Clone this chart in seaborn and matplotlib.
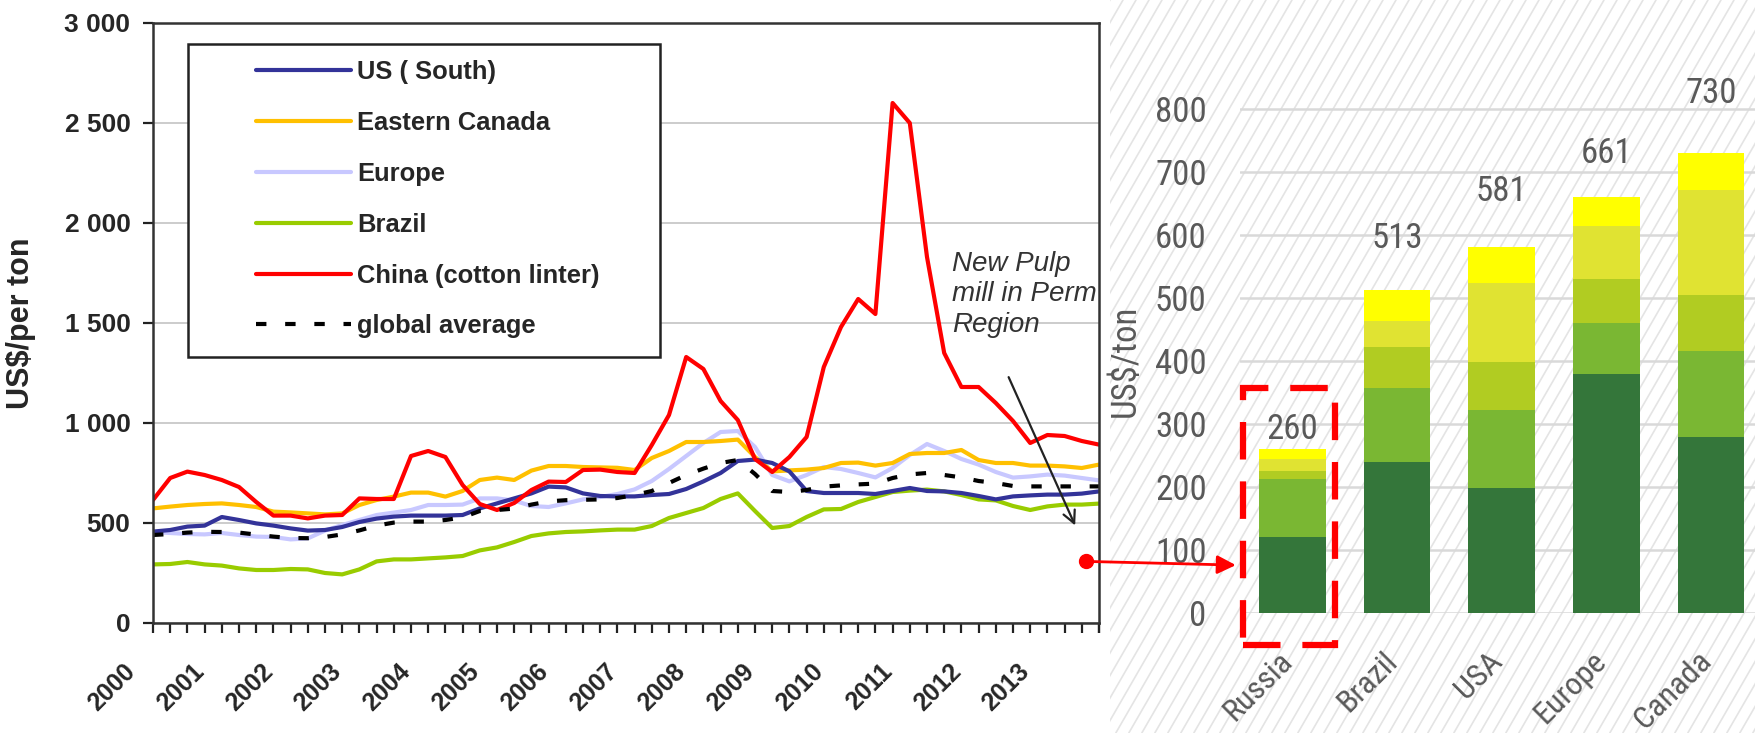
import numpy as np
import matplotlib
matplotlib.use('Agg')
import matplotlib.pyplot as plt
import seaborn as sns
from matplotlib.patches import Rectangle, ConnectionPatch
from matplotlib.lines import Line2D
from matplotlib.transforms import ScaledTranslation

# ---- data: quarterly dissolving pulp prices, US$/ton ----
quarters = np.arange(2000, 2014, 0.25)

us_south = [457, 465, 482, 487, 530, 515, 498, 487, 473, 462, 465, 480,
            505, 522, 532, 537, 537, 537, 540, 573, 598, 623, 648, 682,
            678, 648, 635, 633, 633, 640, 645, 670, 708, 750, 810, 817,
            800, 758, 660, 650, 650, 650, 645, 660, 675, 660, 658, 650,
            635, 618, 633, 638, 642, 642, 647, 658]
eastern_canada = [573, 582, 590, 595, 598, 590, 580, 557, 553, 548, 543, 548,
                  590, 615, 632, 652, 652, 632, 660, 715, 727, 715, 762, 785,
                  785, 780, 778, 776, 765, 825, 860, 905, 905, 910, 917, 830,
                  758, 763, 767, 775, 800, 802, 787, 800, 845, 850, 850, 865,
                  815, 800, 800, 787, 787, 783, 775, 792]
europe = [455, 450, 445, 443, 450, 440, 432, 430, 418, 423, 462, 490,
          515, 540, 552, 565, 590, 590, 592, 623, 623, 612, 585, 580,
          598, 618, 630, 645, 668, 710, 770, 835, 900, 955, 960, 880,
          740, 708, 740, 780, 770, 750, 728, 775, 840, 895, 860, 820,
          792, 755, 727, 733, 742, 737, 725, 713]
brazil = [293, 295, 305, 293, 287, 273, 265, 265, 270, 268, 250, 243,
          268, 308, 318, 318, 323, 328, 335, 363, 378, 405, 435, 448,
          455, 458, 463, 467, 467, 485, 525, 550, 575, 620, 648, 560,
          475, 485, 530, 568, 570, 605, 630, 655, 662, 667, 658, 640,
          618, 613, 585, 565, 583, 592, 592, 597]
china = [615, 725, 757, 740, 715, 680, 605, 537, 537, 523, 537, 540,
         623, 620, 620, 835, 860, 830, 690, 595, 565, 600, 665, 707,
         705, 765, 767, 755, 750, 890, 1040, 1330, 1270, 1110, 1015, 820,
         755, 830, 930, 1280, 1480, 1620, 1545, 2600, 2500, 1830, 1350, 1180,
         1180, 1100, 1010, 900, 940, 935, 910, 892]
global_avg = [440, 445, 452, 456, 455, 452, 442, 432, 425, 424, 430, 443,
              463, 487, 502, 507, 507, 515, 528, 560, 565, 572, 592, 608,
              614, 616, 618, 625, 640, 660, 700, 740, 772, 800, 815, 745,
              660, 655, 665, 682, 688, 693, 697, 725, 743, 750, 740, 728,
              710, 700, 685, 683, 683, 683, 683, 683]

year_labels = [str(y) for y in range(2000, 2014)]
price_ticks = [0, 500, 1000, 1500, 2000, 2500, 3000]
price_labels = ["0", "500", "1 000", "1 500", "2 000", "2 500", "3 000"]

perm_mill = (2013.56, 308)

# ---- data: cash cost breakdown by country ----
countries = ["Russia", "Brazil", "USA", "Europe", "Canada"]
cost_layers = [
    [120, 240, 198, 379, 280],
    [93, 117, 125, 81, 136],
    [12, 66, 75, 70, 88],
    [19, 40, 126, 85, 167],
    [16, 50, 57, 46, 59],
]
cost_ticks = [0, 100, 200, 300, 400, 500, 600, 700, 800]

W, H = 1755, 733
fig = plt.figure(figsize=(W / 100, H / 100), dpi=100)
sns.set_style("white")
plt.rcParams['font.family'] = ['Liberation Sans', 'DejaVu Sans']
narrow = ['Liberation Sans Narrow', 'Roboto Condensed', 'Roboto', 'DejaVu Sans']
grey_txt = '#595959'

# ---------------- left: price lines ----------------
ax1 = fig.add_axes([153 / W, 1 - 623 / H, 946 / W, 600 / H])

line_specs = [
    ("Europe", europe, "#c8c8ff"),
    ("Brazil", brazil, "#99cc00"),
    ("Eastern Canada", eastern_canada, "#ffc000"),
    ("US ( South)", us_south, "#333399"),
    ("China (cotton linter)", china, "#ff0000"),
]
for name, vals, col in line_specs:
    sns.lineplot(x=quarters, y=vals, color=col, lw=3, ax=ax1, legend=False)
sns.lineplot(x=quarters, y=global_avg, color="black", lw=3, ax=ax1, legend=False)
ax1.lines[-1].set_dashes([2.5, 4.5])

ax1.set_xlim(2000, 2013.75)
ax1.set_ylim(0, 3000)
ax1.set_xticks(range(2000, 2014))
ax1.set_xticks(quarters[1:].tolist() + [2013.75], minor=True)
ax1.set_xticklabels(year_labels, rotation=45, ha='right', fontsize=18, fontweight='bold')
ax1.set_yticks(price_ticks)
ax1.set_yticklabels(price_labels, fontsize=19, fontweight='bold')
ax1.tick_params(axis='both', which='both', direction='out', length=7.2, width=1.6, color='#222222')
ax1.tick_params(axis='x', which='both', bottom=True, pad=19)
ax1.tick_params(axis='y', left=True, pad=9)
shift = ScaledTranslation(-13 / 100, 0, fig.dpi_scale_trans)
for lab in ax1.get_xticklabels():
    lab.set_transform(lab.get_transform() + shift)
ax1.set_ylabel("US$/per ton", fontsize=22, fontweight='bold')
ax1.yaxis.set_label_coords(-0.124, 0.5)
ax1.set_xlabel("")
ax1.yaxis.grid(True, color='#c8c8c8', lw=1.3)
ax1.set_axisbelow(True)
for sp in ax1.spines.values():
    sp.set_color('#333333')
    sp.set_linewidth(1.8)

# legend box
ax1.add_patch(Rectangle((0.037, 0.443), 0.499, 0.522, transform=ax1.transAxes,
                        facecolor='white', edgecolor='#222222', lw=1.8, zorder=4))
handles = [Line2D([], [], color="#333399", lw=3),
           Line2D([], [], color="#ffc000", lw=3),
           Line2D([], [], color="#c8c8ff", lw=3),
           Line2D([], [], color="#99cc00", lw=3),
           Line2D([], [], color="#ff0000", lw=3),
           Line2D([], [], color="black", lw=3, dashes=[2.5, 4.5])]
labels = ["US ( South)", "Eastern Canada", "Europe", "Brazil",
          "China (cotton linter)", "global average"]
leg = ax1.legend(handles, labels, loc='upper left', bbox_to_anchor=(0.109, 0.938),
                 frameon=False, handlelength=3.7, handletextpad=0.25, labelspacing=1.05,
                 borderpad=0, borderaxespad=0, prop={'size': 18.4, 'weight': 'bold'})
leg.set_zorder(5)

ax1.text(2011.61, 1860, "New Pulp\nmill in Perm\nRegion", fontsize=20, style='italic',
         color='#333333', va='top', ha='left', linespacing=1.22, clip_on=True)
ax1.annotate('', xy=(2013.42, 475), xytext=(2012.42, 1242),
             arrowprops=dict(arrowstyle='->', color='#222222', lw=1.6, mutation_scale=22))
ax1.plot(*perm_mill, 'o', color='red', ms=10, clip_on=False, zorder=6)

# ---------------- right: hatched background ----------------
ax_bg = fig.add_axes([1110 / W, 0, 645 / W, 1], zorder=-1)
ax_bg.set_xlim(0, 645)
ax_bg.set_ylim(0, 733)
ax_bg.axis('off')
rise = 733 / np.tan(np.radians(60))
for x0 in np.arange(-rise, 660, 13):
    ax_bg.plot([x0, x0 + rise], [0, 733], color='#e4e4e4', lw=1.2)

# ---------------- right: stacked cost bars ----------------
ax2 = fig.add_axes([1240 / W, 1 - 613 / H, 515 / W, 880 * 0.63 / H])
ax2.patch.set_alpha(0)
layer_colors = ["#34763a", "#7ab733", "#b1cc22", "#e0e332", "#ffff00"]
cum = np.cumsum(np.array(cost_layers), axis=0)
for i in reversed(range(len(cost_layers))):
    sns.barplot(x=countries, y=cum[i], color=layer_colors[i], saturation=1,
                width=0.636, ax=ax2, linewidth=0)
totals = cum[-1]
label_gap = [16, 66, 73, 53, 79]
for i, t in enumerate(totals):
    ax2.text(i, t + label_gap[i], str(t), ha='center', va='baseline',
             fontsize=25, color=grey_txt, family=narrow)

ax2.set_xlim(-0.5, 4.42)
ax2.set_ylim(0, 880)
ax2.set_yticks(cost_ticks)
ax2.set_yticklabels([str(v) for v in cost_ticks], fontsize=25, color=grey_txt, family=narrow)
ax2.set_xticks(range(len(countries)))
ax2.set_xticklabels(countries, rotation=45, ha='right', fontsize=23, color=grey_txt,
                    family=narrow)
ax2.tick_params(axis='both', length=0)
ax2.tick_params(axis='x', pad=24)
ax2.tick_params(axis='y', pad=24)
nudge = ScaledTranslation(6 / 100, 0, fig.dpi_scale_trans)
for lab in ax2.get_xticklabels():
    lab.set_transform(lab.get_transform() + nudge)
ax2.set_ylabel("US$/ton", fontsize=25, color=grey_txt, family=narrow)
ax2.yaxis.set_label_coords(-0.19, 0.455)
ax2.set_xlabel("")
ax2.yaxis.grid(True, color='#d9d9d9', lw=1.8)
ax2.set_axisbelow(True)
sns.despine(ax=ax2, left=True, bottom=True)

ax2.add_patch(Rectangle((-0.47, -50), 0.88, 407, facecolor='none', edgecolor='#ff0000',
                        lw=4.5, linestyle=(0, (6, 3.5)), clip_on=False, zorder=5))

arrow = ConnectionPatch(xyA=perm_mill, coordsA=ax1.transData, xyB=(-0.54, 76),
                        coordsB=ax2.transData, arrowstyle='-|>', color='#ff0000',
                        lw=2, mutation_scale=28, zorder=7)
fig.add_artist(arrow)

fig.savefig("out.png", dpi=100)
